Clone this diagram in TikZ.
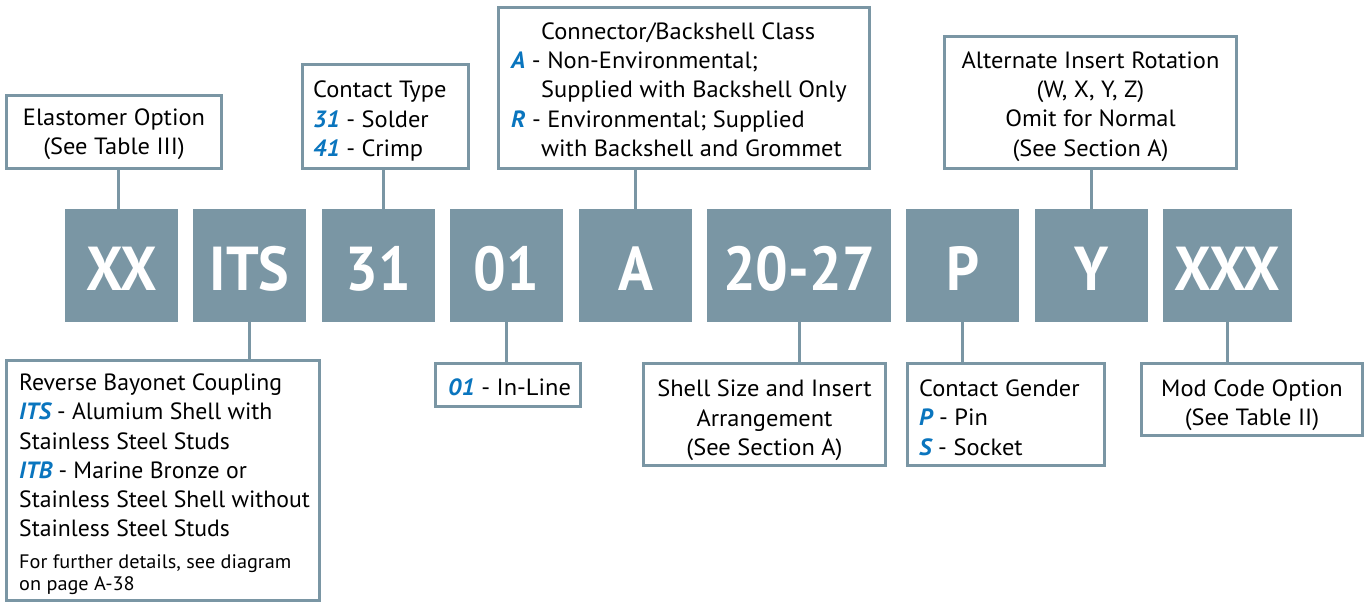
\documentclass[tikz,border=0pt]{standalone}
\usepackage{fontspec}
\setmainfont{PT Sans}[FakeStretch=1.04]
\newfontfamily\codefont{PT Sans}[FakeStretch=0.93]
\newfontfamily\revfont{PT Sans}[FakeStretch=1.01]
\definecolor{slate}{RGB}{122,150,164}
\definecolor{codeblue}{RGB}{10,117,190}
\newcommand{\bl}[1]{\textcolor{codeblue}{\bfseries\itshape #1}}
\begin{document}
\begin{tikzpicture}[x=1pt,y=-1pt,
  codebox/.style={fill=slate, minimum height=113pt, inner sep=0pt, outer sep=0pt,
    text=white, text height=49pt, text depth=0pt, font=\codefont\fontsize{62}{62}\selectfont\bfseries},
  lbox/.style={draw=slate, line width=3pt, inner sep=0pt, outer sep=0pt, fill=white},
  txt/.style={inner sep=0pt, font=\fontsize{23.5}{29.3}\selectfont},
  smalltxt/.style={inner sep=0pt, font=\fontsize{19.5}{21.7}\selectfont},
  link/.style={draw=slate, line width=3pt}]
\useasboundingbox (0,0) rectangle (1365,604);

% code boxes
\node[codebox, minimum width=113pt] (xx)    at (121.5,265.5) {XX};
\node[codebox, minimum width=113pt] (its)   at (249.5,265.5) {ITS};
\node[codebox, minimum width=113pt] (c31)   at (378.5,265.5) {31};
\node[codebox, minimum width=113pt] (c01)   at (506.5,265.5) {01};
\node[codebox, minimum width=113pt] (ca)    at (635.5,265.5) {A};
\node[codebox, minimum width=184pt] (c2027) at (799,265.5)   {20-27};
\node[codebox, minimum width=113pt] (cp)    at (962.5,265.5) {P};
\node[codebox, minimum width=113pt] (cy)    at (1091.5,265.5) {Y};
\node[codebox, minimum width=129pt] (cxxx)  at (1227.5,265.5) {XXX};

% label boxes (top)
\node[lbox, minimum width=215pt, minimum height=73pt] (elast) at (114,132) {};
\node[txt, align=center] (elasttxt) at (114,134.5)
  {Elastomer Option\\(See Table III)};
\node[lbox, minimum width=166pt, minimum height=104pt] (ctype) at (385.5,116.5) {};
\node[txt, align=left, anchor=west] (ctypetxt) at (313,121)
  {Contact Type\\\bl{31} - Solder\\\bl{41} - Crimp};
\node[lbox, minimum width=371pt, minimum height=161pt] (conn) at (684,88) {};
\node[txt, align=left, anchor=west] (conntxt) at (511,89.5)
  {\hspace*{30pt}Connector/Backshell Class\\
   \bl{A} - Non-Environmental;\\
   \hspace*{30pt}Supplied with Backshell Only\\
   \bl{R} - Environmental; Supplied\\
   \hspace*{30pt}with Backshell and Grommet};
\node[lbox, minimum width=292pt, minimum height=132pt] (alt) at (1090.5,102.5) {};
\node[txt, align=center] (alttxt) at (1090.5,106.5)
  {Alternate Insert Rotation\\(W, X, Y, Z)\\Omit for Normal\\(See Section A)};

% label boxes (bottom)
\node[lbox, minimum width=313pt, minimum height=240pt] (rev) at (163,480.5) {};
\node[txt, align=left, anchor=west, font=\revfont\fontsize{23.5}{29.3}\selectfont] (revtxt) at (19,455.5)
  {Reverse Bayonet Coupling\\
   \bl{ITS} - Alumium Shell with\\
   Stainless Steel Studs\\
   \bl{ITB} - Marine Bronze or\\
   Stainless Steel Shell without\\
   Stainless Steel Studs};
\node[smalltxt, align=left, anchor=west] (revnote) at (19,575)
  {For further details, see diagram\\on page A-38};
\node[lbox, minimum width=145pt, minimum height=43pt] (inl) at (508,385) {};
\node[txt, anchor=west] (inltxt) at (448,387) {\bl{01} - In-Line};
\node[lbox, minimum width=242pt, minimum height=102pt] (shell) at (764.5,414.5) {};
\node[txt, align=center] (shelltxt) at (764.5,420.5)
  {Shell Size and Insert\\Arrangement\\(See Section A)};
\node[lbox, minimum width=197pt, minimum height=102pt] (gend) at (1006,414.5) {};
\node[txt, align=left, anchor=west] (gendtxt) at (919,417.5)
  {Contact Gender\\\bl{P} - Pin\\\bl{S} - Socket};
\node[lbox, minimum width=221pt, minimum height=72pt] (mod) at (1252,399.5) {};
\node[txt, align=center] (modtxt) at (1252,405)
  {Mod Code Option\\(See Table II)};

% connectors
\draw[link] ([xshift=-3.5pt]xx.north) -- ([xshift=-3.5pt]xx.north |- elast.south);
\draw[link] (its.south) -- (its.south |- rev.north);
\draw[link] ([xshift=4.5pt]c31.north) -- ([xshift=4.5pt]c31.north |- ctype.south);
\draw[link] (c01.south) -- (c01.south |- inl.north);
\draw[link] (ca.north) -- (ca.north |- conn.south);
\draw[link] (c2027.south) -- (c2027.south |- shell.north);
\draw[link] (cp.south) -- (cp.south |- gend.north);
\draw[link] (cy.north) -- (cy.north |- alt.south);
\draw[link] (cxxx.south) -- (cxxx.south |- mod.north);
\end{tikzpicture}
\end{document}
